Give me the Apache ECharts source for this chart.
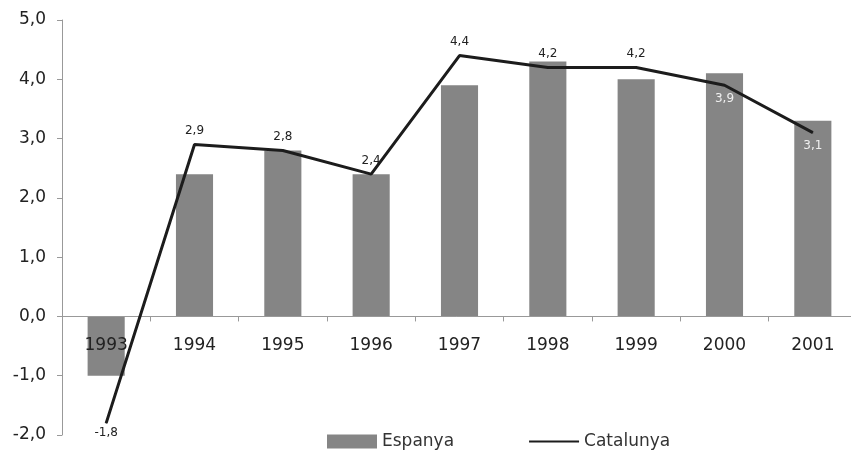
<!DOCTYPE html>
<html>
<head>
<meta charset="utf-8">
<script src="https://cdn.jsdelivr.net/npm/echarts@6/dist/echarts.min.js"></script>
<style>html,body{margin:0;padding:0;background:#fff}#c{width:851px;height:455px}</style>
</head>
<body>
<div id="c"></div>
<script>
const years = ['1993','1994','1995','1996','1997','1998','1999','2000','2001'];
const espanya = [-1.0, 2.4, 2.8, 2.4, 3.9, 4.3, 4.0, 4.1, 3.3];
const catalunya = [-1.8, 2.9, 2.8, 2.4, 4.4, 4.2, 4.2, 3.9, 3.1];
const yTicks = {min: -2, max: 5, step: 1};

const fmt = v => Number(v).toFixed(1).replace('.', ',');
const belowDark = [0];
const belowLight = [7, 8];

const lineData = catalunya.map((v, i) => {
  let label = {position: 'top', color: '#222', distance: 7};
  if (belowDark.includes(i)) label = {position: 'bottom', color: '#222', distance: 3};
  if (belowLight.includes(i)) label = {position: 'bottom', color: '#f0f0f0', distance: 7};
  return {value: v, label};
});

const gridTop = 20, gridBottom = 20, H = 455;
const plotH = H - gridTop - gridBottom;
const zeroOffset = -plotH * (0 - yTicks.min) / (yTicks.max - yTicks.min);

const chart = echarts.init(document.getElementById('c'), null, {renderer: 'canvas'});
chart.setOption({
  animation: false,
  backgroundColor: '#fff',
  textStyle: {fontFamily: 'DejaVu Sans, sans-serif'},
  grid: {left: 62, right: -6, top: gridTop, bottom: gridBottom, outerBoundsMode: 'none', containLabel: false},
  legend: {
    left: 327, top: 433, padding: 0,
    itemGap: 74, itemWidth: 50, itemHeight: 14,
    textStyle: {fontSize: 17, color: '#333'},
    data: [
      {name: 'Espanya', icon: 'rect'},
      {name: 'Catalunya', itemStyle: {opacity: 0}}
    ]
  },
  xAxis: {
    type: 'category',
    data: years,
    position: 'bottom',
    offset: zeroOffset,
    z: 4,
    axisLine: {onZero: false, lineStyle: {color: '#999', width: 1}},
    axisTick: {show: true, length: 5, inside: false, alignWithLabel: false, lineStyle: {color: '#999'}},
    axisLabel: {fontSize: 17, color: '#222', margin: 21, interval: 0},
    splitLine: {show: false}
  },
  yAxis: {
    type: 'value',
    min: yTicks.min, max: yTicks.max, interval: yTicks.step,
    axisLine: {show: true, lineStyle: {color: '#999'}},
    axisTick: {show: true, length: 5, lineStyle: {color: '#999'}},
    axisLabel: {fontSize: 17, color: '#222', margin: 16, formatter: fmt},
    splitLine: {show: false}
  },
  series: [
    {
      name: 'Espanya', type: 'bar', data: espanya,
      barCategoryGap: '58%',
      itemStyle: {color: '#858585'}
    },
    {
      name: 'Catalunya', type: 'line', data: lineData,
      symbol: 'circle', symbolSize: 1, showSymbol: true, z: 5,
      lineStyle: {color: '#1c1c1c', width: 3},
      itemStyle: {color: '#1c1c1c'},
      label: {show: true, fontSize: 12, formatter: p => fmt(p.value)}
    }
  ]
});
</script>
</body>
</html>
